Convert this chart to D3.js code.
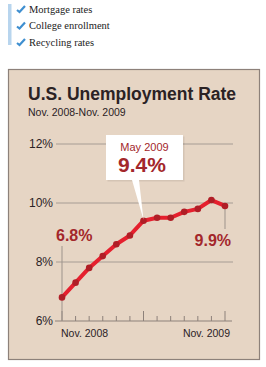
<!DOCTYPE html>
<html><head><meta charset="utf-8">
<script src="https://cdn.jsdelivr.net/npm/d3@7/dist/d3.min.js"></script>
<style>body{margin:0;background:#fff}svg{display:block}</style>
</head><body>
<script>
const legendItems = ["Mortgage rates", "College enrollment", "Recycling rates"];
const months = ["Nov 2008","Dec 2008","Jan 2009","Feb 2009","Mar 2009","Apr 2009","May 2009","Jun 2009","Jul 2009","Aug 2009","Sep 2009","Oct 2009","Nov 2009"];
const rates = [6.8, 7.3, 7.8, 8.2, 8.6, 8.9, 9.4, 9.5, 9.5, 9.7, 9.8, 10.1, 9.9];
const yTicks = [6, 8, 10, 12];
const xLabels = ["Nov. 2008", "Nov. 2009"];
const title = "U.S. Unemployment Rate";
const subtitle = "Nov. 2008-Nov. 2009";

const W = 266, H = 367;
const svg = d3.select("body").append("svg").attr("width", W).attr("height", H);
const sans = "'Liberation Sans', Arial, sans-serif";
const red = "#a3272b";

// legend
svg.append("rect").attr("x", 8).attr("y", 4).attr("width", 3.5).attr("height", 41).attr("fill", "#b8d5ee");
const lg = svg.append("g");
legendItems.forEach((t, i) => {
  const cy = 9 + i * 16.5;
  lg.append("path").attr("d", `M17,${cy+1} L19.5,${cy+3} L25,${cy-3}`).attr("fill", "none")
    .attr("stroke", "#3f8fd0").attr("stroke-width", 2.2);
  lg.append("text").attr("x", 29).attr("y", cy + 3.5).text(t)
    .attr("font-family", "'Liberation Serif', 'DejaVu Serif', serif").attr("font-size", 10.5).attr("fill", "#222");
});

// panel
svg.append("rect").attr("x", 8.5).attr("y", 69.5).attr("width", 251).attr("height", 290)
  .attr("fill", "#e6d5c4").attr("stroke", "#8d817a").attr("stroke-width", 1.2);
svg.append("text").attr("x", 28).attr("y", 100).text(title)
  .attr("font-family", sans).attr("font-weight", "bold").attr("font-size", 17.5).attr("fill", "#2b2224");
svg.append("text").attr("x", 28).attr("y", 116).text(subtitle)
  .attr("font-family", sans).attr("font-size", 10.5).attr("fill", "#2b2224");

const x = d3.scalePoint().domain(months).range([62, 225]);
const y = d3.scaleLinear().domain([6, 12]).range([321, 144]);

// gridlines
const grid = svg.append("g");
yTicks.filter(t => t !== 6).forEach(t => {
  grid.append("line").attr("x1", 56).attr("x2", 233).attr("y1", y(t)).attr("y2", y(t))
    .attr("stroke", "#a69c94").attr("stroke-width", 1);
});
yTicks.forEach(t => {
  svg.append("text").attr("x", 53).attr("y", y(t) + 4).attr("text-anchor", "end").text(t + "%")
    .attr("font-family", sans).attr("font-size", 12).attr("fill", "#2b2224");
});

// x axis
const xa = svg.append("g").attr("transform", `translate(0,${y(6)})`);
xa.append("line").attr("x1", 55).attr("x2", 232).attr("stroke", "#8d817a").attr("stroke-width", 1);
months.forEach((m, i) => {
  const major = i % 6 === 0;
  xa.append("line").attr("x1", x(m)).attr("x2", x(m)).attr("y1", 0).attr("y2", major ? -10 : -5)
    .attr("stroke", "#8d817a").attr("stroke-width", 1);
});
svg.append("text").attr("x", 61).attr("y", 337).text(xLabels[0])
  .attr("font-family", sans).attr("font-size", 10.5).attr("fill", "#2b2224");
svg.append("text").attr("x", 230).attr("y", 337).attr("text-anchor", "end").text(xLabels[1])
  .attr("font-family", sans).attr("font-size", 10.5).attr("fill", "#2b2224");

// leader lines
svg.append("line").attr("x1", x(months[0])).attr("x2", x(months[0])).attr("y1", 246).attr("y2", y(6))
  .attr("stroke", "#9d938b").attr("stroke-width", 1);
svg.append("line").attr("x1", x(months[12])).attr("x2", x(months[12])).attr("y1", y(rates[12])).attr("y2", 229)
  .attr("stroke", "#9d938b").attr("stroke-width", 1);

// line
const line = d3.line().x((d, i) => x(months[i])).y(d => y(d));
svg.append("path").datum(rates).attr("d", line).attr("fill", "none")
  .attr("stroke", "#e5202e").attr("stroke-width", 4).attr("stroke-linejoin", "round");
svg.selectAll("circle.pt").data(rates).join("circle").attr("class", "pt")
  .attr("cx", (d, i) => x(months[i])).attr("cy", d => y(d)).attr("r", 3.3).attr("fill", "#b01e26");

// value labels
svg.append("text").attr("x", 56).attr("y", 241).text(rates[0].toFixed(1) + "%")
  .attr("font-family", sans).attr("font-weight", "bold").attr("font-size", 16).attr("fill", red);
svg.append("text").attr("x", 231).attr("y", 246).attr("text-anchor", "end").text(rates[12].toFixed(1) + "%")
  .attr("font-family", sans).attr("font-weight", "bold").attr("font-size", 16).attr("fill", red);

// callout
const px = x(months[6]), py = y(rates[6]);
const co = svg.append("g");
co.append("rect").attr("x", 107.5).attr("y", 136.5).attr("width", 77).attr("height", 45).attr("fill", "#000").attr("opacity", 0.08);
co.append("path").attr("d", `M106,135 H183 V180 H139 L${px},${py - 1} L132,180 H106 Z`).attr("fill", "#fff");
co.append("text").attr("x", 144.5).attr("y", 151).attr("text-anchor", "middle").text("May 2009")
  .attr("font-family", sans).attr("font-size", 11).attr("fill", red);
co.append("text").attr("x", 142).attr("y", 172).attr("text-anchor", "middle").text(rates[6].toFixed(1) + "%")
  .attr("font-family", sans).attr("font-weight", "bold").attr("font-size", 21).attr("fill", red);
</script>
</body></html>
